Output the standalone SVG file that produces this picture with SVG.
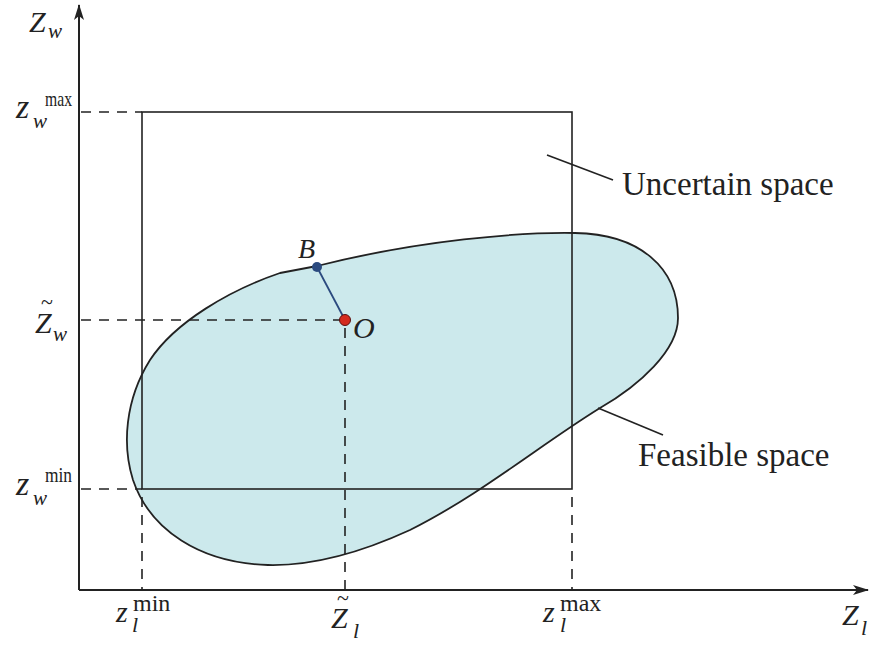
<svg xmlns="http://www.w3.org/2000/svg" width="871" height="647" viewBox="0 0 871 647">
<style>
text{font-family:'Liberation Serif','Times New Roman','DejaVu Serif',serif;fill:#222}
.i{font-style:italic}
.ax{stroke:#222;stroke-width:2;fill:none}
.ln{stroke:#222;stroke-width:1.6;fill:none}
.da{stroke:#222;stroke-width:1.6;fill:none;stroke-dasharray:10,8}
</style>
<defs>
<marker id="arr" markerWidth="16" markerHeight="10" refX="15" refY="5" orient="auto" markerUnits="userSpaceOnUse">
<path d="M0,0 L16,5 L0,10 L4,5 Z" fill="#222"/>
</marker>
</defs>
<rect width="871" height="647" fill="#fff"/>
<g id="feasible">
<path d="M 280,273 L 317,266 C 420,240 520,232 575,233 C 640,234 678,268 678,318 C 678,350 640,385 600,408 C 540,445 480,495 410,530 C 360,553 310,566 268,565 C 200,563 150,530 133,480 C 122,445 125,400 150,360 C 175,322 230,290 280,273 Z" fill="#cce9ec" stroke="#222" stroke-width="1.8"/>
</g>
<g id="uncertain">
<rect x="142" y="112" width="430" height="377" class="ln"/>
</g>
<g id="connectors">
<line x1="79" y1="590" x2="79" y2="5" class="ax" marker-end="url(#arr)"/>
<line x1="79" y1="590" x2="868" y2="590" class="ax" marker-end="url(#arr)"/>
<line x1="81" y1="112" x2="142" y2="112" class="da"/>
<line x1="81" y1="320" x2="345" y2="320" class="da"/>
<line x1="81" y1="489" x2="142" y2="489" class="da"/>
<line x1="142" y1="497" x2="142" y2="590" class="da"/>
<line x1="345" y1="328" x2="345" y2="590" class="da"/>
<line x1="572" y1="497" x2="572" y2="590" class="da"/>
<line x1="317" y1="267" x2="345" y2="320" stroke="#2b4a7f" stroke-width="1.8"/>
<line x1="547" y1="155" x2="613" y2="180" class="ln"/>
<line x1="598" y1="408" x2="663" y2="435" class="ln"/>
</g>
<g id="pointB">
<circle cx="317" cy="267" r="5" fill="#2b4a7f"/>
<text x="298" y="258" class="i" font-size="28">B</text>
</g>
<g id="pointO">
<circle cx="345" cy="320" r="5.5" fill="#d42a1e" stroke="#5a1010" stroke-width="1"/>
<text x="353" y="338" class="i" font-size="30">O</text>
</g>
<g id="labels">
<text x="622" y="195" font-size="33">Uncertain space</text>
<text x="638" y="466" font-size="33">Feasible space</text>
<text x="29" y="32" class="i" font-size="30">Z</text>
<text x="48" y="38" class="i" font-size="21">w</text>
<text x="16" y="118" class="i" font-size="34">z</text>
<text x="45" y="106" font-size="22" textLength="27" lengthAdjust="spacingAndGlyphs">max</text>
<text x="33" y="128" class="i" font-size="21">w</text>
<text x="35" y="333" class="i" font-size="30">Z</text>
<text x="41" y="309" font-size="22">~</text>
<text x="53" y="341" class="i" font-size="21">w</text>
<text x="16" y="495" class="i" font-size="34">z</text>
<text x="45" y="482" font-size="22" textLength="27" lengthAdjust="spacingAndGlyphs">min</text>
<text x="33" y="505" class="i" font-size="21">w</text>
<text x="116" y="622" class="i" font-size="30">z</text>
<text x="133" y="611" font-size="24">min</text>
<text x="132" y="632" class="i" font-size="22">l</text>
<text x="543" y="622" class="i" font-size="30">z</text>
<text x="560" y="611" font-size="24">max</text>
<text x="560" y="632" class="i" font-size="22">l</text>
<text x="331" y="628" class="i" font-size="30">Z</text>
<text x="337" y="605" font-size="22">~</text>
<text x="353" y="638" class="i" font-size="22">l</text>
<text x="842" y="625" class="i" font-size="30">Z</text>
<text x="861" y="635" class="i" font-size="22">l</text>
</g>
</svg>
